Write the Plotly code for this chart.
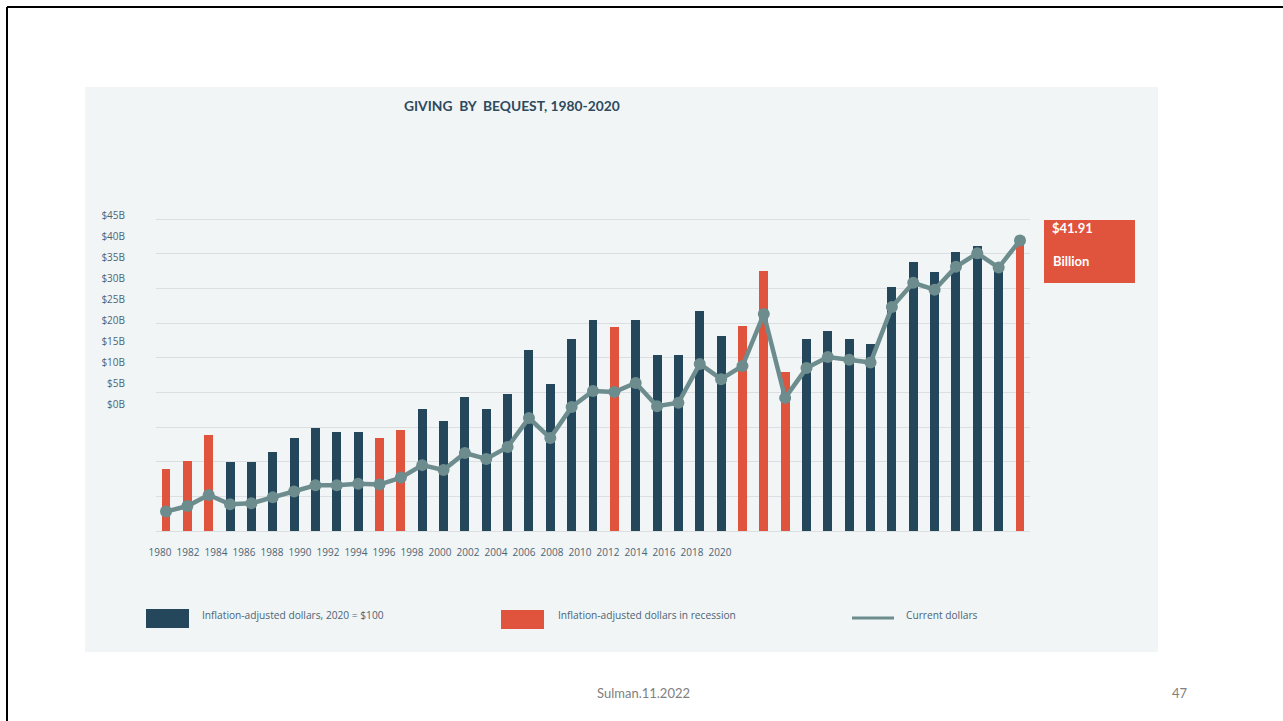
import plotly.graph_objects as go

# ---- data -------------------------------------------------------------
years = list(range(1980, 2021))

# Giving by bequest, inflation-adjusted (2020 dollars), $ billions
inflation_adjusted = [
    9.0, 10.1, 13.9, 10.0, 10.0, 11.4, 13.4, 14.9, 14.3, 14.3,
    13.4, 14.6, 17.6, 15.9, 19.3, 17.6, 19.8, 26.1, 21.2, 27.7,
    30.4, 29.4, 30.4, 25.4, 25.4, 31.7, 28.1, 29.6, 37.5, 22.9,
    27.7, 28.9, 27.7, 27.0, 35.2, 38.8, 37.4, 40.2, 41.1, 38.0,
    41.9,
]

# Giving by bequest, current dollars, $ billions
current_dollars = [
    2.8, 3.6, 5.2, 3.85, 4.0, 4.85, 5.7, 6.6, 6.6, 6.8,
    6.7, 7.7, 9.5, 8.8, 11.25, 10.4, 12.1, 16.3, 13.4, 17.9,
    20.2, 20.05, 21.35, 18.0, 18.5, 24.1, 21.9, 23.8, 31.3, 19.2,
    23.5, 25.1, 24.7, 24.3, 32.3, 35.8, 34.8, 38.1, 40.05, 38.0,
    41.91,
]

recession_years = [1980, 1981, 1982, 1990, 1991, 2001, 2007, 2008, 2009, 2020]

axis_labels = ["$0B", "$5B", "$10B", "$15B", "$20B", "$25B", "$30B", "$35B", "$40B", "$45B"]
axis_label_values = [0, 5, 10, 15, 20, 25, 30, 35, 40, 45]
year_labels = list(range(1980, 2021, 2))

latest_value = current_dollars[-1]

# ---- styling ----------------------------------------------------------
NAVY = "#24475b"
RED = "#e0533d"
TEAL = "#6d8c8e"
GRID = "#dcdfe2"
LABEL = "#4d6475"
PANEL = "#f1f5f6"
SMALL_FONT = "Open Sans"
HEAD_FONT = "Lato"

W, H = 1283, 721
PLOT_L, PLOT_R, PLOT_T, PLOT_B = 156, 1030, 200, 531


def px(x):
    return (x - PLOT_L) / (PLOT_R - PLOT_L)


def py(y):
    return (PLOT_B - y) / (PLOT_B - PLOT_T)


bar_colors = [RED if y in recession_years else NAVY for y in years]

fig = go.Figure()

fig.add_trace(go.Bar(
    x=years, y=inflation_adjusted,
    marker=dict(color=bar_colors, line=dict(width=0)),
    width=0.42, showlegend=False, hoverinfo="x+y",
))

fig.add_trace(go.Scatter(
    x=years, y=current_dollars, mode="lines+markers",
    line=dict(color=TEAL, width=4.5),
    marker=dict(color=TEAL, size=12),
    showlegend=False,
))

# empty trace that carries the printed label axes
fig.add_trace(go.Scatter(x=[], y=[], xaxis="x2", yaxis="y2",
                         showlegend=False, hoverinfo="skip"))

shapes = [
    # panel behind the chart
    dict(type="rect", xref="paper", yref="paper", layer="below",
         x0=px(85), x1=px(1158), y0=py(652), y1=py(87),
         fillcolor=PANEL, line=dict(width=0)),
    # slide frame
    dict(type="line", xref="paper", yref="paper",
         x0=px(7), x1=px(1283), y0=py(7), y1=py(7),
         line=dict(color="#000000", width=2)),
    dict(type="line", xref="paper", yref="paper",
         x0=px(7), x1=px(7), y0=py(7), y1=py(721),
         line=dict(color="#000000", width=2)),
    # value call-out box
    dict(type="rect", xref="paper", yref="paper",
         x0=px(1044), x1=px(1135), y0=py(283), y1=py(220),
         fillcolor=RED, line=dict(width=0)),
    # legend keys
    dict(type="rect", xref="paper", yref="paper",
         x0=px(146), x1=px(189), y0=py(628), y1=py(609),
         fillcolor=NAVY, line=dict(width=0)),
    dict(type="rect", xref="paper", yref="paper",
         x0=px(501), x1=px(544), y0=py(629), y1=py(610),
         fillcolor=RED, line=dict(width=0)),
    dict(type="line", xref="paper", yref="paper",
         x0=px(852), x1=px(894), y0=py(618), y1=py(618),
         line=dict(color=TEAL, width=3)),
]


def note(text, x, y, size, color, font=SMALL_FONT, xanchor="left", bold=False):
    if bold:
        text = f"<b>{text}</b>"
    return dict(text=text, xref="paper", yref="paper", x=px(x), y=py(y),
                xanchor=xanchor, yanchor="middle", showarrow=False,
                font=dict(family=font, size=size, color=color))


annotations = [
    note("GIVING&nbsp; BY&nbsp; BEQUEST, 1980-2020", 512, 105, 13.8, "#2d4a5e",
         font=HEAD_FONT, xanchor="center", bold=True),
    note(f"${latest_value:.2f}", 1050, 228, 13, "#ffffff", font=HEAD_FONT, bold=True),
    note("Billion", 1051, 261, 13, "#ffffff", font=HEAD_FONT, bold=True),
    note("Inflation-adjusted dollars, 2020 = $100", 200, 615, 10.2, LABEL),
    note("Inflation-adjusted dollars in recession", 556, 615, 10.2, LABEL),
    note("Current dollars", 904, 615, 10.2, LABEL),
    note("Sulman.11.2022", 643, 693, 13, "#808080", font=HEAD_FONT, xanchor="center"),
    note("47", 1180, 693, 13, "#808080", font=HEAD_FONT, xanchor="center"),
]

# year scale for bars: one bar every 21.35 px, first centred at x=166
bar_step = 21.35
x_lo = 1980 - (166 - PLOT_L) / bar_step
x_hi = 1980 + (PLOT_R - 166) / bar_step

# value scale: $45B spans 312 px
y_scale = (PLOT_B - 219) / 45
y_hi = (PLOT_B - PLOT_T) / y_scale

# label scales used by the printed tick labels
lab_step_y = (404 - 215) / 45          # px per $B for the printed labels
y2_lo = -(PLOT_B - 404) / lab_step_y
y2_hi = (404 - PLOT_T) / lab_step_y
lab_step_x = 14.0                      # px per year for the printed labels
x2_lo = 1980 - (160 - PLOT_L) / lab_step_x
x2_hi = 1980 + (PLOT_R - 160) / lab_step_x

fig.update_layout(
    width=W, height=H,
    margin=dict(l=PLOT_L, r=W - PLOT_R, t=PLOT_T, b=H - PLOT_B, pad=0),
    paper_bgcolor="#ffffff",
    plot_bgcolor="rgba(0,0,0,0)",
    bargap=0,
    showlegend=False,
    shapes=shapes,
    annotations=annotations,
    xaxis=dict(range=[x_lo, x_hi], showticklabels=False, showgrid=False,
               zeroline=False, showline=False, ticks=""),
    yaxis=dict(range=[0, y_hi], tick0=0, dtick=5, showticklabels=False,
               showgrid=True, gridcolor=GRID, gridwidth=1.3,
               zeroline=True, zerolinecolor=GRID, zerolinewidth=1.3,
               showline=False, ticks=""),
    xaxis2=dict(overlaying="x", anchor="y2", side="bottom",
                range=[x2_lo, x2_hi], tickmode="array",
                tickvals=year_labels, ticktext=[str(y) for y in year_labels],
                showgrid=False, zeroline=False, showline=False, ticks="",
                ticklabelstandoff=14,
                tickfont=dict(family=SMALL_FONT, size=10, color=LABEL)),
    yaxis2=dict(overlaying="y", anchor="x2", side="left",
                range=[y2_lo, y2_hi], tickmode="array",
                tickvals=axis_label_values, ticktext=axis_labels,
                showgrid=False, zeroline=False, showline=False, ticks="",
                ticklabelstandoff=30,
                tickfont=dict(family=SMALL_FONT, size=10, color=LABEL)),
)

fig.write_html("out.html")
